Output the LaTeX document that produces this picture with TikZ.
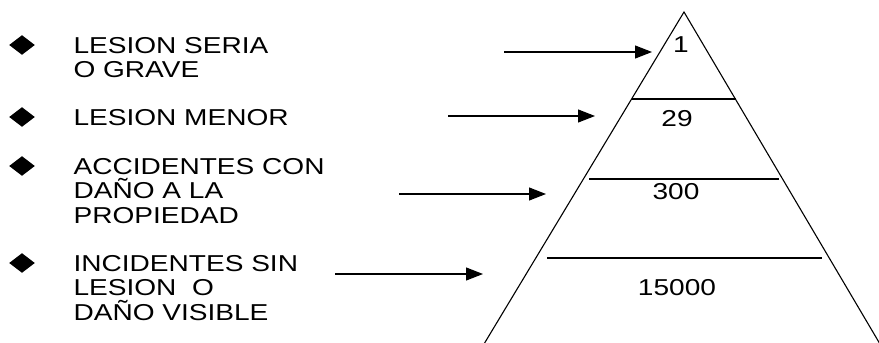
\documentclass[tikz,border=0pt]{standalone}
\usepackage{fontspec}
\setmainfont[FakeStretch=1.22]{Liberation Sans}
\usepackage{tikz}
\usetikzlibrary{arrows.meta,shapes}

\begin{document}
\begin{tikzpicture}[x=1pt, y=-1pt, line width=1.1pt, >={Triangle[length=17pt,width=13pt]},
  bullet/.style={diamond, fill=black, inner sep=0pt, minimum width=26pt, minimum height=20pt},
  item/.style={anchor=north west, align=left, inner sep=0pt, font=\fontsize{23}{24.5}\selectfont},
  count/.style={anchor=base, inner sep=0pt, font=\fontsize{23}{24.5}\selectfont}]
\useasboundingbox (0,0) rectangle (879,343);

% left list
\node[bullet] (b1) at (22,45) {};
\node[bullet] (b2) at (22,117) {};
\node[bullet] (b3) at (22,166) {};
\node[bullet] (b4) at (22,263) {};
\node[item] (l1) at (73,36.5) {LESION SERIA\\O GRAVE};
\node[item] (l2) at (73,108.5) {LESION MENOR};
\node[item] (l3) at (73,157.5) {ACCIDENTES CON\\DAÑO A LA\\PROPIEDAD};
\node[item] (l4) at (73,254.5) {INCIDENTES SIN\\LESION\ \ O\\DAÑO VISIBLE};

% pyramid
\coordinate (top) at (684,12);
\coordinate (bl) at (484,344);
\coordinate (br) at (880,344);
\draw (bl) -- (top) -- (br);
\coordinate (c1l) at (632,99);  \coordinate (c1r) at (736,99);
\coordinate (c2l) at (589,179); \coordinate (c2r) at (779,179);
\coordinate (c3l) at (547,258); \coordinate (c3r) at (822,258);
\draw (c1l) -- (c1r);
\draw (c2l) -- (c2r);
\draw (c3l) -- (c3r);

\node[count] (n1) at (681,52) {1};
\node[count] (n2) at (677,126) {29};
\node[count] (n3) at (676,199) {300};
\node[count] (n4) at (677,295) {15000};

% arrows
\coordinate (a1) at (504,52);  \coordinate (p1) at (652,52);
\coordinate (a2) at (448,116); \coordinate (p2) at (595,116);
\coordinate (a3) at (399,194); \coordinate (p3) at (546,194);
\coordinate (a4) at (335,274); \coordinate (p4) at (483,274);
\draw[->] (a1) -- (p1);
\draw[->] (a2) -- (p2);
\draw[->] (a3) -- (p3);
\draw[->] (a4) -- (p4);
\end{tikzpicture}
\end{document}
